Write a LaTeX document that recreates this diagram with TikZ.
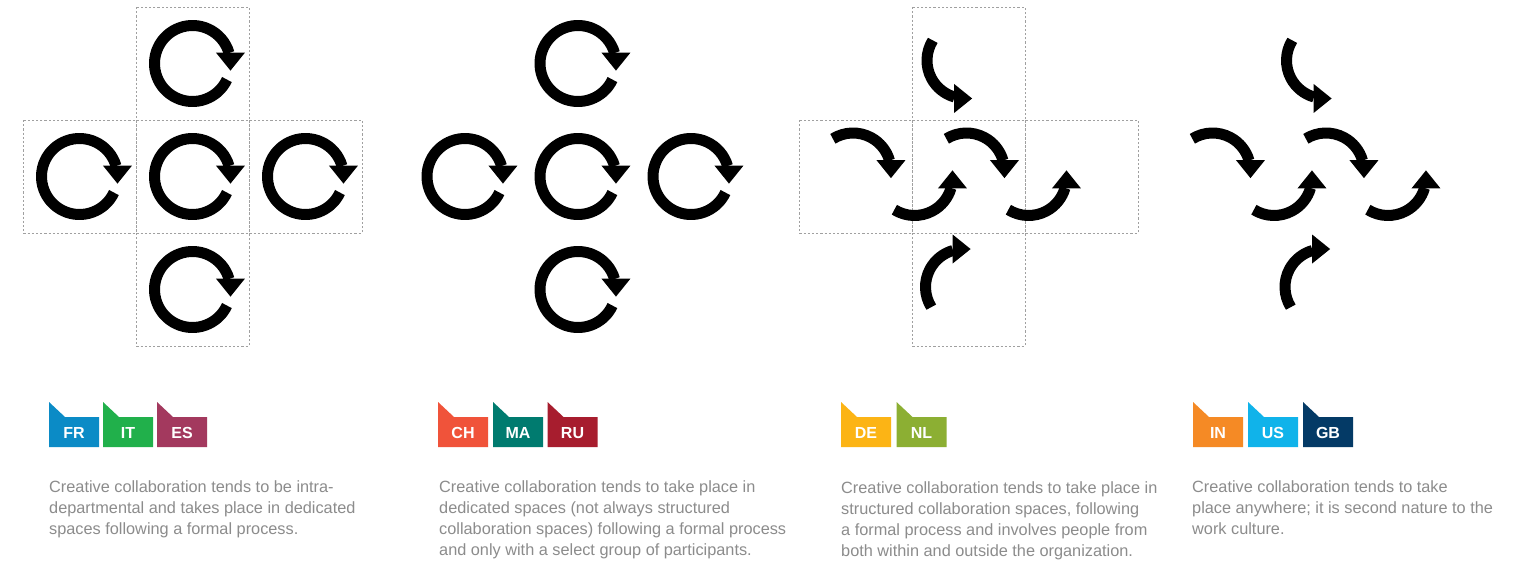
\documentclass[tikz,border=0pt]{standalone}
\usepackage{fontspec}
\setmainfont{Liberation Sans}
\usetikzlibrary{calc}
\definecolor{cFR}{HTML}{0B8BC6}
\definecolor{cIT}{HTML}{21B04B}
\definecolor{cES}{HTML}{A3395E}
\definecolor{cCH}{HTML}{F0533A}
\definecolor{cMA}{HTML}{007B6F}
\definecolor{cRU}{HTML}{A71D2E}
\definecolor{cDE}{HTML}{FCB415}
\definecolor{cNL}{HTML}{8CAF33}
\definecolor{cIN}{HTML}{F58A25}
\definecolor{cUS}{HTML}{10B3EA}
\definecolor{cGB}{HTML}{043A66}
\definecolor{txtgray}{HTML}{8C8C8C}
\definecolor{boxgray}{HTML}{A0A0A0}
\tikzset{
  ring/.style={line width=11pt, black},
  cellbox/.style={draw=boxgray, line width=0.8pt, dash pattern=on 2.2pt off 2pt},
  tagshape/.style={line width=0pt},
  taglabel/.style={text=white, font=\bfseries\fontsize{16}{16}\selectfont, inner sep=0pt, anchor=base},
  desc/.style={text=txtgray, font=\fontsize{16.3}{21}\selectfont, align=left, inner sep=0pt, anchor=north west}
}
% arc arrow: centre x, centre y, start angle, end angle, tip direction (image angles, clockwise)
\newcommand\carr[5]{%
  \draw[ring] ($(#1,#2)+(#3:38)$) arc[start angle=#3, end angle=#4, radius=38];
  \fill[shift={($(#1,#2)+(#4:39.5)$)}, rotate=-#5] (0,-14.5) -- (18,0) -- (0,14.5) -- cycle;
}
\newcommand\fullcirc[2]{\carr{#1}{#2}{25}{344}{90}}
\newcommand\flagtag[4]{% name, x, label, colour
  \fill[#4, tagshape] (#2,402) -- (#2+16,417) -- (#2+50,417) -- (#2+50,447) -- (#2,447) -- cycle;
  \node[taglabel] (#1) at (#2+25,438) {#3};
}
\begin{document}
\begin{tikzpicture}[x=1pt, y=-1pt]
\useasboundingbox (0,0) rectangle (1518,562);
\fill[white] (0,0) rectangle (1518,562);

% ---------- Panel 1 ----------
\draw[cellbox] (136,7) rectangle (249,120);
\draw[cellbox] (23,120) rectangle (136,233);
\draw[cellbox] (136,120) rectangle (249,233);
\draw[cellbox] (249,120) rectangle (362,233);
\draw[cellbox] (136,233) rectangle (249,346);
\fullcirc{192.5}{63.5}
\fullcirc{79.5}{176.5}
\fullcirc{192.5}{176.5}
\fullcirc{305.5}{176.5}
\fullcirc{192.5}{289.5}

% ---------- Panel 2 ----------
\fullcirc{578}{63.5}
\fullcirc{465}{176.5}
\fullcirc{578}{176.5}
\fullcirc{691}{176.5}
\fullcirc{578}{289.5}

% ---------- Panel 3 ----------
\draw[cellbox] (912,7) rectangle (1025,120);
\draw[cellbox] (799,120) rectangle (912,233);
\draw[cellbox] (912,120) rectangle (1025,233);
\draw[cellbox] (1025,120) rectangle (1138,233);
\draw[cellbox] (912,233) rectangle (1025,346);
\carr{853}{171}{238}{344}{90}
\carr{966.5}{171}{238}{344}{90}
\carr{914.5}{177.5}{122}{16}{270}
\carr{1028.5}{177.5}{122}{16}{270}
\carr{965}{60.5}{212}{106}{0}
\carr{963.5}{287}{148}{254}{0}

% ---------- Panel 4 ----------
\carr{1212.5}{171}{238}{344}{90}
\carr{1326}{171}{238}{344}{90}
\carr{1274}{177.5}{122}{16}{270}
\carr{1388}{177.5}{122}{16}{270}
\carr{1324.5}{60.5}{212}{106}{0}
\carr{1323}{287}{148}{254}{0}

% ---------- Tags ----------
\flagtag{fr}{49}{FR}{cFR}
\flagtag{it}{103}{IT}{cIT}
\flagtag{es}{157}{ES}{cES}
\flagtag{ch}{438}{CH}{cCH}
\flagtag{ma}{493}{MA}{cMA}
\flagtag{ru}{547.5}{RU}{cRU}
\flagtag{de}{841}{DE}{cDE}
\flagtag{nl}{896.5}{NL}{cNL}
\flagtag{in}{1193}{IN}{cIN}
\flagtag{us}{1248}{US}{cUS}
\flagtag{gb}{1303}{GB}{cGB}

% ---------- Descriptions ----------
\node[desc] (t1) at (49,480) {Creative collaboration tends to be intra-\\departmental and takes place in dedicated\\spaces following a formal process.};
\node[desc] (t2) at (439,480) {Creative collaboration tends to take place in\\dedicated spaces (not always structured\\collaboration spaces) following a formal process\\and only with a select group of participants.};
\node[desc] (t3) at (841,481) {Creative collaboration tends to take place in\\structured collaboration spaces, following\\a formal process and involves people from\\both within and outside the organization.};
\node[desc] (t4) at (1192,480) {Creative collaboration tends to take\\place anywhere; it is second nature to the\\work culture.};
\end{tikzpicture}
\end{document}
